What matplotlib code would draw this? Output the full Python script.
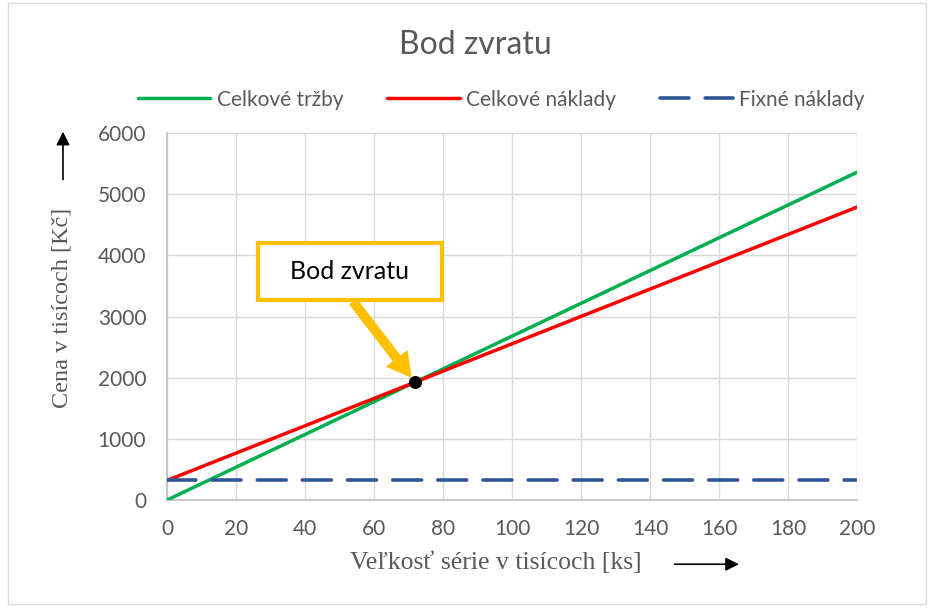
import matplotlib
matplotlib.use("Agg")
import matplotlib.pyplot as plt
from matplotlib.patches import Rectangle, FancyArrowPatch

# ---------- Data ----------
quantity = [0, 200]             # series size, thousands of pieces
revenue = [0, 5360]             # total revenue, thousand Kč
total_costs = [320, 4790]       # total costs, thousand Kč
fixed_costs = [320, 320]        # fixed costs, thousand Kč
break_even = (71.9, 1927)       # intersection of revenue and total costs

x_ticks = [0, 20, 40, 60, 80, 100, 120, 140, 160, 180, 200]
y_ticks = [0, 1000, 2000, 3000, 4000, 5000, 6000]

# ---------- Style ----------
GREEN = "#00B050"
RED = "#FF0000"
BLUE = "#2F5597"
ORANGE = "#FFC000"
GRID = "#D9D9D9"
TEXT = "#595959"

SANS = ["Lato", "DejaVu Sans"]
SERIF = ["Liberation Serif", "DejaVu Serif"]

fig = plt.figure(figsize=(9.33, 6.08), dpi=100)
fig.patch.set_facecolor("white")
ax = fig.add_axes([0.179, 0.1776, 0.7395, 0.6034])

ax.plot(quantity, revenue, color=GREEN, lw=2.5, label="Celkové tržby",
        solid_capstyle="round", zorder=3)
ax.plot(quantity, total_costs, color=RED, lw=2.5, label="Celkové náklady",
        solid_capstyle="round", zorder=3)
ax.plot(quantity, fixed_costs, color=BLUE, lw=2.6, label="Fixné náklady",
        dashes=(8, 4.5), dash_capstyle="round", zorder=3)
ax.scatter([break_even[0]], [break_even[1]], s=70, color="black", zorder=5)

ax.set_xlim(0, 200)
ax.set_ylim(0, 6000)
ax.set_xticks(x_ticks)
ax.set_yticks(y_ticks)
ax.grid(True, color=GRID, lw=1.0)
ax.set_axisbelow(True)
for side in ("top", "right"):
    ax.spines[side].set_visible(False)
for side in ("left", "bottom"):
    ax.spines[side].set_color("#BFBFBF")
    ax.spines[side].set_linewidth(1.2)
ax.tick_params(length=0, labelsize=15, colors=TEXT)
ax.tick_params(axis="y", pad=15)
ax.tick_params(axis="x", pad=14)
for lbl in ax.get_xticklabels() + ax.get_yticklabels():
    lbl.set_family(SANS)

fig.text(0.509, 0.926, "Bod zvratu", fontsize=23, color=TEXT, family=SANS,
         ha="center", va="center")

leg = fig.legend(loc="center", bbox_to_anchor=(0.537, 0.836), ncol=3,
                 frameon=False, handlelength=3.5, columnspacing=2.1,
                 handletextpad=0.3, prop={"family": SANS, "size": 15})
for t in leg.get_texts():
    t.set_color(TEXT)

# axis labels with direction arrows
fig.text(0.066, 0.493, "Cena v tisícoch [Kč]", rotation=90, ha="center",
         va="center", fontsize=17.5, color=TEXT, family=SERIF)
fig.text(0.531, 0.074, "Veľkosť série v tisícoch [ks]", ha="center",
         va="center", fontsize=18.5, color=TEXT, family=SERIF)
fig.add_artist(FancyArrowPatch((0.0675, 0.70), (0.0675, 0.788),
                               transform=fig.transFigure, arrowstyle="-|>",
                               mutation_scale=20, color="black", lw=1.2))
fig.add_artist(FancyArrowPatch((0.72, 0.072), (0.795, 0.072),
                               transform=fig.transFigure, arrowstyle="-|>",
                               mutation_scale=20, color="black", lw=1.2))

# callout pointing to the break-even point
ax.add_patch(Rectangle((0.132, 0.545), 0.267, 0.155, transform=ax.transAxes,
                       fc="white", ec=ORANGE, lw=3, zorder=6))
ax.text(0.265, 0.624, "Bod zvratu", transform=ax.transAxes, ha="center",
        va="center", fontsize=18, color="black", family=SANS, zorder=7)
ax.annotate("", xy=break_even, xycoords="data",
            xytext=(0.27, 0.54), textcoords="axes fraction",
            arrowprops=dict(arrowstyle="simple,head_width=1.5,head_length=1.35,tail_width=0.5",
                            mutation_scale=12, fc=ORANGE, ec=ORANGE,
                            shrinkA=0, shrinkB=5),
            zorder=4)

# chart area border
fig.add_artist(Rectangle((0.009, 0.007), 0.983, 0.988, transform=fig.transFigure,
                         fill=False, ec=GRID, lw=1.0))

fig.savefig("out.png", dpi=100, facecolor="white")
